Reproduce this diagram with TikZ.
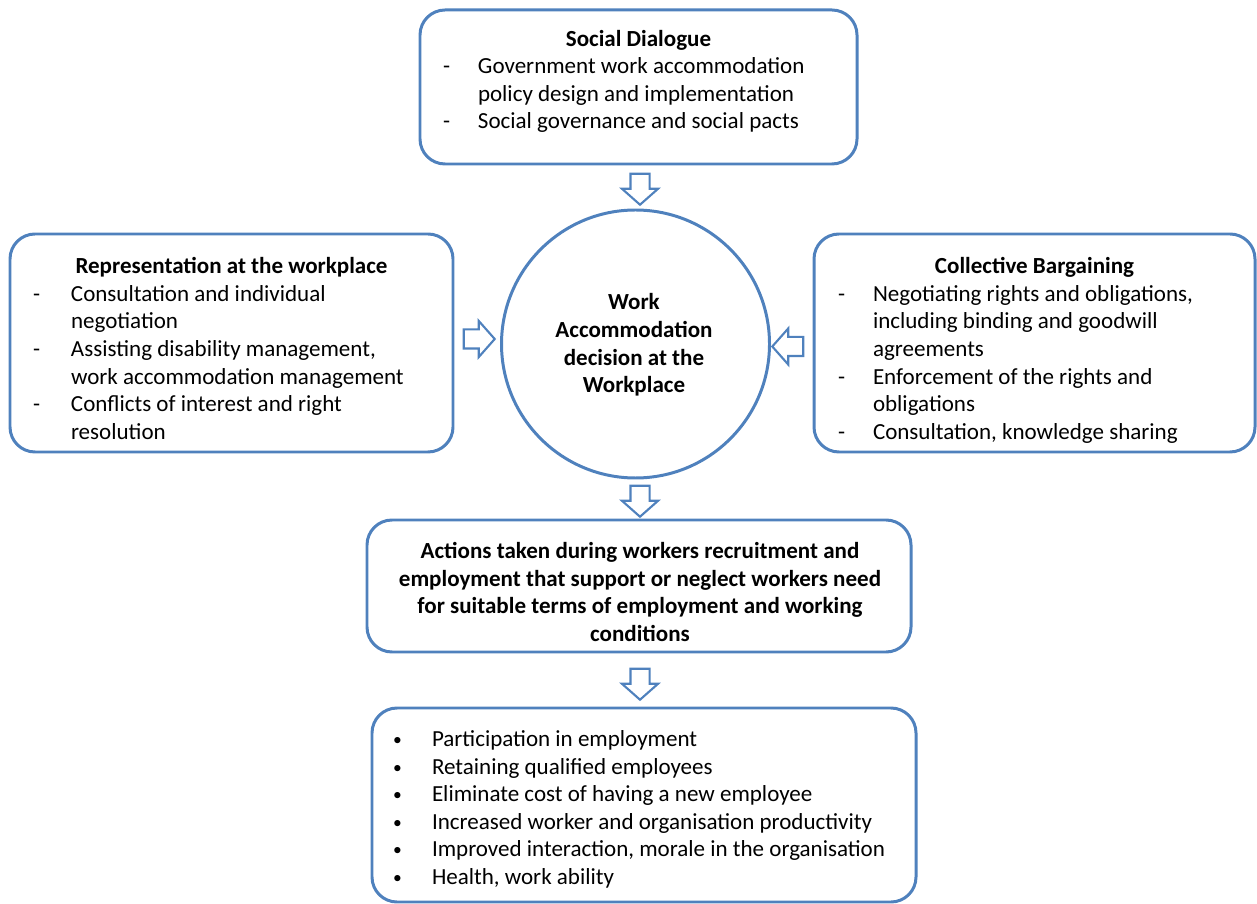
\documentclass[tikz,border=0pt]{standalone}
\usepackage{fontspec}
\setmainfont{Carlito}
\usepackage{tikz}
\usetikzlibrary{shapes.arrows, positioning}
\definecolor{myblue}{RGB}{79,129,189}
\tikzset{
  roundbox/.style={rectangle, draw=myblue, fill=white,
    rounded corners=0.5cm, line width=1.7pt, inner sep=0pt},
  hubcircle/.style={circle, draw=myblue, fill=white,
    line width=1.7pt, inner sep=0pt, minimum size=5.36cm},
  boxtext/.style={inner sep=0pt, align=left},
  blockarrow/.style={single arrow, draw=myblue, fill=white,
    line width=1.2pt, minimum height=0.62cm, inner xsep=0pt,
    inner ysep=0.17cm, single arrow head extend=0.17cm,
    single arrow tip angle=97}
}
\newcommand{\boxfont}{\fontsize{13.1pt}{15.7pt}\selectfont}
\newcommand{\smallbullet}{\raisebox{0.1ex}{\fontsize{10pt}{10pt}\selectfont\textbullet}}

\begin{document}
\begin{tikzpicture}[every node/.style={font=\boxfont}]
  \useasboundingbox (0,0) rectangle (25.14,-18.08);

  % Boxes
  \node[roundbox, minimum width=8.74cm, minimum height=3.08cm] (social) at (12.77,-1.74) {};
  \node[roundbox, minimum width=8.86cm, minimum height=4.36cm] (repr) at (4.63,-6.86) {};
  \node[roundbox, minimum width=8.82cm, minimum height=4.36cm] (coll) at (20.69,-6.86) {};
  \node[hubcircle] (hub) at (12.71,-6.88) {};
  \node[roundbox, minimum width=10.88cm, minimum height=2.64cm] (actions) at (12.78,-11.72) {};
  \node[roundbox, minimum width=10.88cm, minimum height=3.88cm] (outcomes) at (12.88,-16.1) {};

  % Texts
  \node[boxtext] (socialtxt) at (12.77,-1.64) {%
    \begin{tabular}{@{}p{0.7cm}@{}p{7.12cm}@{}}
      \multicolumn{2}{@{}c@{}}{\textbf{Social Dialogue}}\\
      - & Government work accommodation\\
        & policy design and implementation\\
      - & Social governance and social pacts
    \end{tabular}};
  \node[boxtext] (reprtxt) at (4.63,-7.02) {%
    \begin{tabular}{@{}p{0.76cm}@{}p{7.18cm}@{}}
      \multicolumn{2}{@{}c@{}}{\textbf{Representation at the workplace}}\\
      - & Consultation and individual\\
        & negotiation\\
      - & Assisting disability management,\\
        & work accommodation management\\
      - & Conflicts of interest and right\\
        & resolution
    \end{tabular}};
  \node[boxtext] (colltxt) at (20.69,-7.02) {%
    \begin{tabular}{@{}p{0.7cm}@{}p{7.16cm}@{}}
      \multicolumn{2}{@{}c@{}}{\textbf{Collective Bargaining}}\\
      - & Negotiating rights and obligations,\\
        & including binding and goodwill\\
        & agreements\\
      - & Enforcement of the rights and\\
        & obligations\\
      - & Consultation, knowledge sharing
    \end{tabular}};
  \node[inner sep=0pt, align=center] (hubtxt) at (12.68,-6.9)
    {\textbf{Work}\\\textbf{Accommodation}\\\textbf{decision at the}\\\textbf{Workplace}};
  \node[inner sep=0pt, align=center] (actionstxt) at (12.8,-11.84)
    {\textbf{Actions taken during workers recruitment and}\\
     \textbf{employment that support or neglect workers need}\\
     \textbf{for suitable terms of employment and working}\\
     \textbf{conditions}};
  \node[boxtext] (outcomestxt) at (12.88,-16.2) {%
    \begin{tabular}{@{}p{0.78cm}@{}p{9.26cm}@{}}
      \smallbullet & Participation in employment\\
      \smallbullet & Retaining qualified employees\\
      \smallbullet & Eliminate cost of having a new employee\\
      \smallbullet & Increased worker and organisation productivity\\
      \smallbullet & Improved interaction, morale in the organisation\\
      \smallbullet & Health, work ability
    \end{tabular}};

  % Block arrows
  \node[blockarrow, rotate=-90] (arrsocial) at (12.8,-3.7) {};
  \node[blockarrow] (arrrepr) at (9.5,-6.78) {};
  \node[blockarrow, rotate=180] (arrcoll) at (15.84,-6.93) {};
  \node[blockarrow, rotate=-90] (arrhub) at (12.8,-9.94) {};
  \node[blockarrow, rotate=-90] (arractions) at (12.8,-13.6) {};
\end{tikzpicture}
\end{document}
